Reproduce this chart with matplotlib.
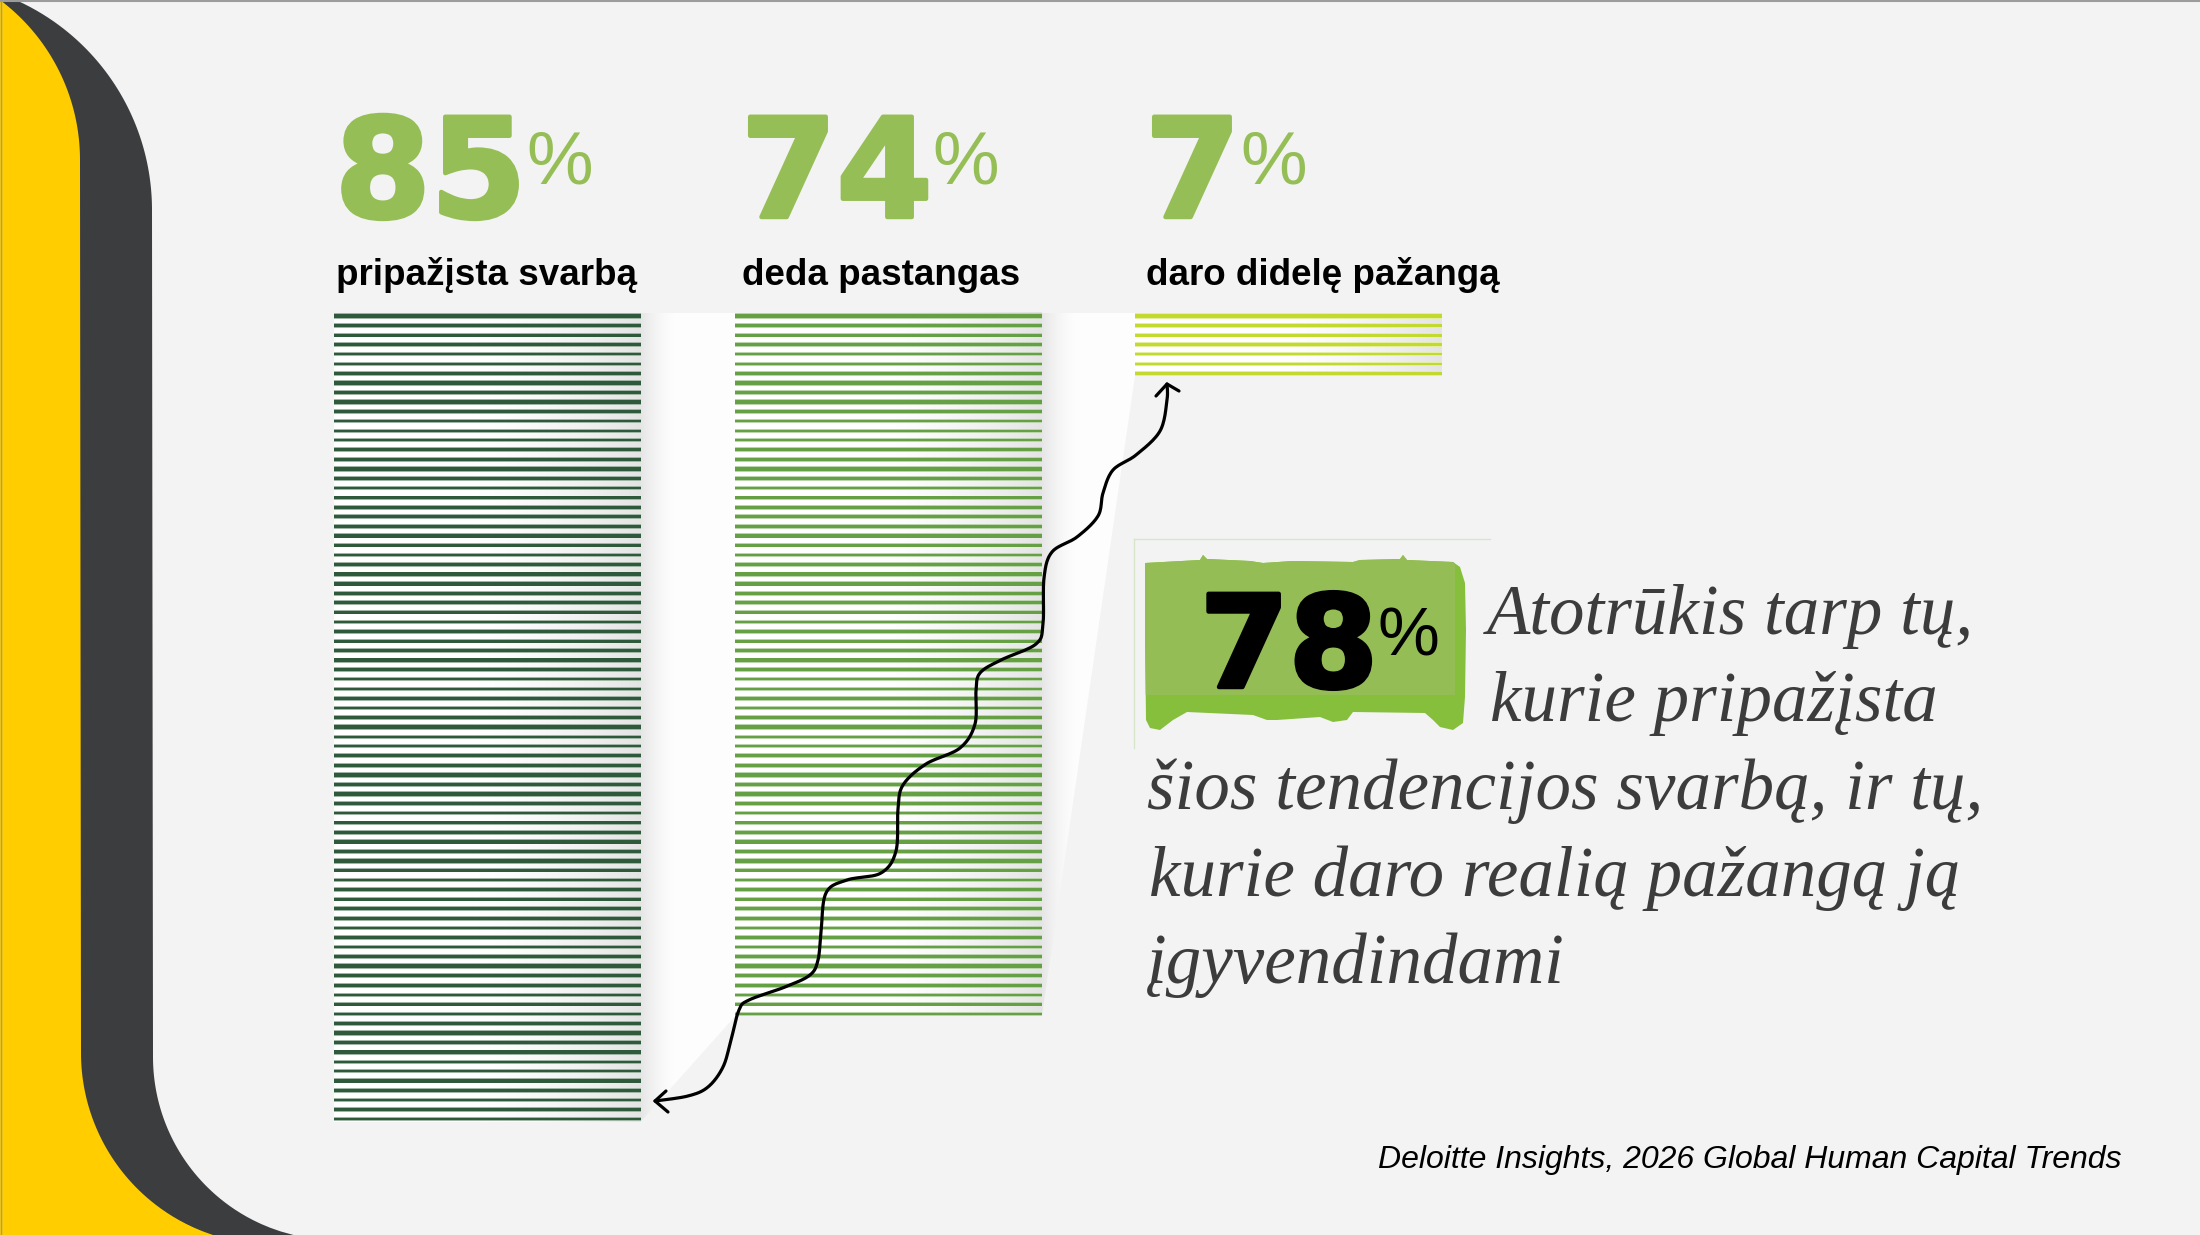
"""Infografikas: 85% / 74% / 7% juostos su 78% atotrūkio paaiškinimu."""
import numpy as np
import matplotlib
matplotlib.use("Agg")
import matplotlib.pyplot as plt
import matplotlib.patheffects as pe
from matplotlib.patches import Polygon, Rectangle

# duomenys
values = [85, 74, 7]
labels = ["pripažįsta svarbą", "deda pastangas", "daro didelę pažangą"]
gap_value = 78
gap_lines = ["Atotrūkis tarp tų,", "kurie pripažįsta",
             "šios tendencijos svarbą, ir tų,",
             "kurie daro realią pažangą ją", "įgyvendindami"]
source = "Deloitte Insights, 2026 Global Human Capital Trends"

# stilius
BG = "#f3f3f3"
YELLOW = "#ffcd00"
DARK = "#3c3d3f"
NUM_GREEN = "#96be56"
BAR_COLORS = ["#2e5a3b", "#66a044", "#c3d92e"]
TEXT_GRAY = "#3c3c3c"
STRIPE_T = [3.4, 2.8, 2.8, 3.4, 2.2, 2.4, 2.8, 3.4, 3.8, 3.4,
            3.4, 2.4, 2.4, 2.4, 3.0, 3.4, 3.4, 3.4, 2.2, 2.4]

W, H = 2200, 1235
BAR_LEFT = [334, 735, 1135]
TEXT_LEFT = [337, 743, 1147]
BAR_W = 307
BAR_TOP = 313
PITCH = 9.56  # px per percentage point (one stripe each)

fig = plt.figure(figsize=(22, 12.35), dpi=100, facecolor=BG)
ax = fig.add_axes([0, 0, 1, 1])
ax.set_xlim(0, W)
ax.set_ylim(H, 0)
ax.axis("off")
ax.set_facecolor(BG)


def mix(c, t):
    r, g, b = matplotlib.colors.to_rgb(c)
    return (r + (1 - r) * t, g + (1 - g) * t, b + (1 - b) * t)


# --- kairės pusės lenkti juostos
yy = np.linspace(0, 210, 60)
top_b = -78 + np.sqrt(230 ** 2 - (yy - 210) ** 2)
yb = np.linspace(1057, H, 50)
bot_b = 336 - np.sqrt(np.clip(183 ** 2 - (yb - 1057) ** 2, 0, None))
dark_pts = ([(0, 0)] + list(zip(top_b, yy)) + list(zip(bot_b, yb)) + [(0, H)])
ax.add_patch(Polygon(dark_pts, closed=True, fc=DARK, ec="none", zorder=1))

ya = np.linspace(0, 160, 50)
top_a = -120 + np.sqrt(200 ** 2 - (ya - 160) ** 2)
yb2 = np.linspace(1053, H, 50)
bot_a = 272.5 - np.sqrt(np.clip(191.5 ** 2 - (yb2 - 1053) ** 2, 0, None))
yel_pts = [(0, 0)] + list(zip(top_a, ya)) + list(zip(bot_a, yb2)) + [(0, H)]
ax.add_patch(Polygon(yel_pts, closed=True, fc=YELLOW, ec="none", zorder=1))

# plonas rėmelis
ax.plot([0, W], [1, 1], color="#9c9c9c", lw=1.5, zorder=10)
ax.plot([0.7, 0.7], [0, H], color="#9c9c9c", lw=1.0, zorder=10)

# --- juostų geometrija iš reikšmių
bottoms = [BAR_TOP + 3 + (v - 1) * PITCH + 2.5 for v in values]
rights = [x + BAR_W for x in BAR_LEFT]

# baltos "juostelės" tarp stulpelių
ribbons = []
for i in range(len(values) - 1):
    pts = [(rights[i], BAR_TOP), (BAR_LEFT[i + 1], BAR_TOP),
           (BAR_LEFT[i + 1], bottoms[i + 1]), (rights[i], bottoms[i])]
    rp = Polygon(pts, closed=True, fc="#fdfdfd", ec="none", zorder=2)
    ax.add_patch(rp)
    ribbons.append(rp)

grad = np.linspace(0, 1, 256)
inner = np.zeros((1, 256, 4))
inner[..., :3] = 0.86
inner[0, :, 3] = np.clip((grad - 0.45) / 0.55, 0, 1) ** 1.6 * 0.75
outer = np.zeros((1, 64, 4))
outer[..., :3] = 0.87
outer[0, :, 3] = (1 - np.linspace(0, 1, 64)) ** 1.5 * 0.7

for i, (v, x0, col) in enumerate(zip(values, BAR_LEFT, BAR_COLORS)):
    y1 = bottoms[i]
    ax.add_patch(Rectangle((x0, BAR_TOP), BAR_W, y1 - BAR_TOP, fc="white",
                           ec="none", zorder=3))
    ax.imshow(inner, extent=(x0, x0 + BAR_W, y1, BAR_TOP), aspect="auto",
              interpolation="bilinear", zorder=3.1)
    if i < len(ribbons):
        im = ax.imshow(outer, extent=(x0 + BAR_W, x0 + BAR_W + 34, y1, BAR_TOP),
                       aspect="auto", interpolation="bilinear", zorder=2.5)
        im.set_clip_path(ribbons[i])
    centers = BAR_TOP + 3 + np.arange(v) * PITCH
    th = np.array([STRIPE_T[k % len(STRIPE_T)] for k in range(v)])
    ax.bar(x0, th + 1.8, width=BAR_W, bottom=centers - (th + 1.8) / 2,
           align="edge", color=mix(col, 0.55), lw=0, zorder=3.5)
    ax.bar(x0, th, width=BAR_W, bottom=centers - th / 2, align="edge",
           color=col, lw=0, zorder=3.6)

# --- skaičiai ir etiketės
fig.canvas.draw()
renderer = fig.canvas.get_renderer()
inv = ax.transData.inverted()


def number_with_pct(x, y, value, color, size, pct_size, pct_base, gap,
                    zorder=6):
    t = ax.text(x, y, f"{value}", fontsize=size, fontweight="bold",
                family="DejaVu Sans", color=color, ha="left", va="baseline",
                zorder=zorder,
                path_effects=[pe.withStroke(linewidth=3.2, foreground=color)])
    bb = t.get_window_extent(renderer)
    xr, _ = inv.transform((bb.x1, bb.y0))
    ax.text(xr + gap, pct_base, "%", fontsize=pct_size,
            family="Liberation Sans", color=color, ha="left",
            va="baseline", zorder=zorder)


for v, x0, lab in zip(values, TEXT_LEFT, labels):
    number_with_pct(x0 - 2, 217, v, NUM_GREEN, 99, 54, 184, 0)
    ax.text(x0 - 1, 285, lab, fontsize=26.5, fontweight="bold",
            family="Liberation Sans", color="black", ha="left",
            va="baseline", zorder=6)

# --- 78% plokštelė
box = [(1145, 563), (1200, 560), (1203, 555), (1207, 559), (1250, 561),
       (1263, 563), (1293, 561), (1353, 562), (1360, 560), (1400, 559),
       (1403, 555), (1407, 560), (1453, 562), (1460, 567), (1465, 583),
       (1466, 630), (1465, 697), (1463, 723), (1453, 730), (1440, 727),
       (1433, 720), (1425, 713), (1353, 712), (1347, 720), (1333, 722),
       (1320, 717), (1277, 720), (1267, 720), (1253, 715), (1187, 712),
       (1173, 720), (1160, 730), (1150, 728), (1146, 720), (1145, 630)]
shape = Polygon(box, closed=True, fc="#86bf3c", ec="none", zorder=4)
ax.add_patch(shape)
top_part = Rectangle((1140, 550), 315, 145, fc="#95bd55", ec="none", zorder=4.1)
ax.add_patch(top_part)
top_part.set_clip_path(shape)
ax.plot([1134, 1490], [539, 539], color="#d9e5cb", lw=1, zorder=4)
ax.plot([1134, 1134], [539, 748], color="#d9e5cb", lw=1, zorder=4)
number_with_pct(1200, 687, gap_value, "black", 92, 50, 655, 0)

# --- paaiškinimo tekstas
line_x = [1487, 1490, 1147, 1149, 1147]
for k, (line, lx) in enumerate(zip(gap_lines, line_x)):
    ax.text(lx, 634 + k * 87.3, line, fontsize=51, style="italic",
            family="Liberation Serif", color=TEXT_GRAY, ha="left",
            va="baseline", zorder=6)

ax.text(2121, 1168, source, fontsize=23, style="italic",
        family="Liberation Sans", color="black", ha="right", va="baseline",
        zorder=6)


# --- banguota rodyklė nuo 85% iki 7%
def catmull_rom(pts, n=14):
    p = np.asarray(pts, float)
    p = np.vstack([p[0], p, p[-1]])
    t = np.linspace(0, 1, n, endpoint=False)[:, None]
    out = []
    for i in range(1, len(p) - 2):
        p0, p1, p2, p3 = p[i - 1], p[i], p[i + 1], p[i + 2]
        out.append(0.5 * (2 * p1 + (-p0 + p2) * t
                          + (2 * p0 - 5 * p1 + 4 * p2 - p3) * t ** 2
                          + (-p0 + 3 * p1 - 3 * p2 + p3) * t ** 3))
    out.append(p[-2][None])
    return np.vstack(out)


wave = [(655, 1101), (688, 1096), (708, 1087), (723, 1067), (731, 1040),
        (739, 1010), (749, 1000), (785, 987), (810, 975), (818, 960),
        (821, 933), (826, 893), (847, 880), (881, 873), (896, 851),
        (898, 809), (903, 785), (926, 764), (960, 748), (975, 724),
        (976, 691), (980, 673), (1001, 660), (1036, 644), (1043, 624),
        (1044, 578), (1052, 552), (1077, 537), (1098, 516), (1103, 493),
        (1113, 470), (1136, 455), (1160, 431), (1167, 400), (1167, 384)]
curve = catmull_rom(wave)
ax.plot(curve[:, 0], curve[:, 1], color="black", lw=2.3,
        solid_capstyle="round", zorder=7)
ax.plot([666, 655, 668], [1091, 1101, 1112], color="black", lw=2.3,
        solid_capstyle="round", solid_joinstyle="round", zorder=7)
ax.plot([1156, 1167, 1179], [396, 384, 391], color="black", lw=2.3,
        solid_capstyle="round", solid_joinstyle="round", zorder=7)

fig.savefig("out.png", dpi=100, facecolor=BG)
